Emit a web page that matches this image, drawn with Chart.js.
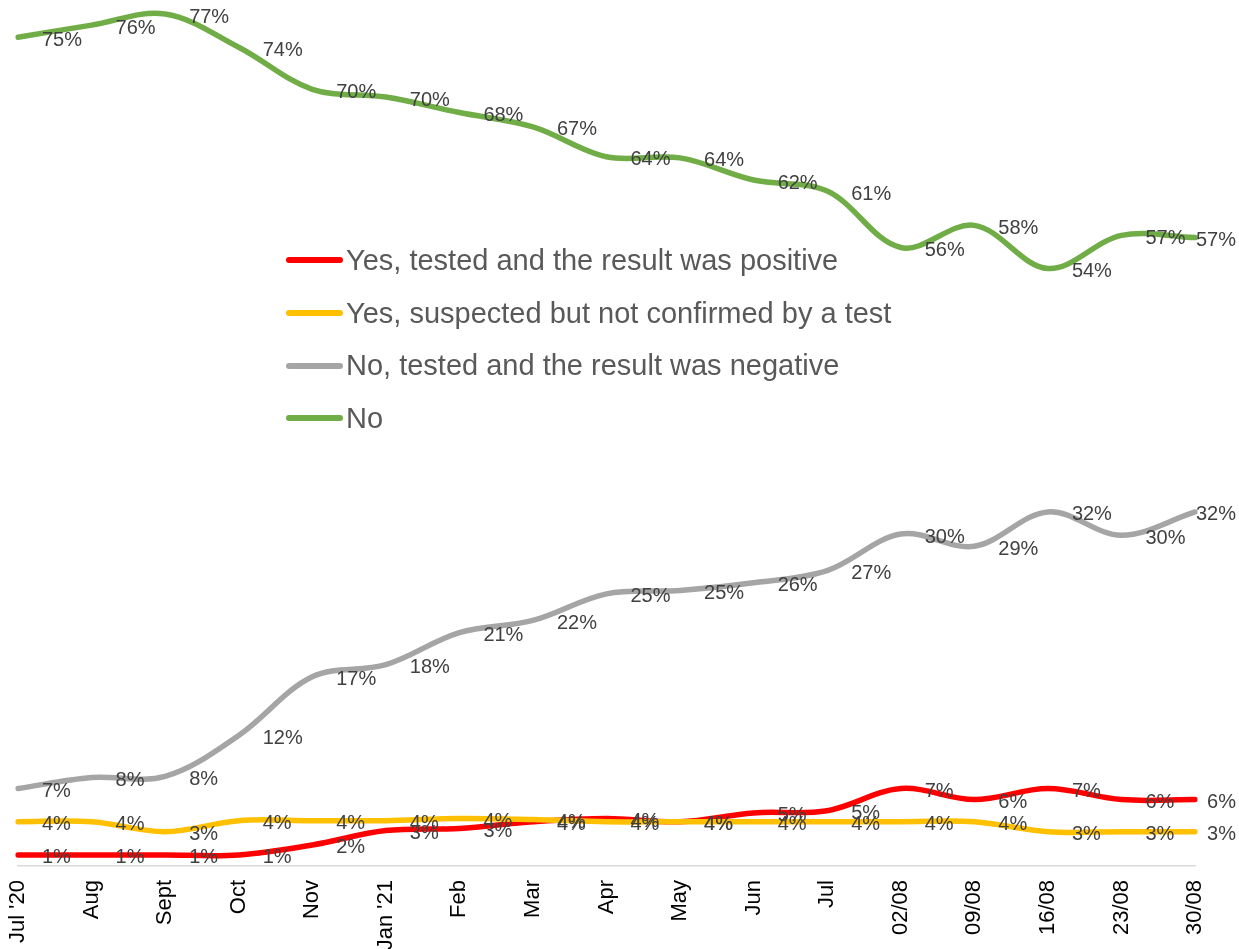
<!DOCTYPE html>
<html lang="en">
<head>
    <meta charset="UTF-8">
    <title>Covid status over time</title>
    <script src="https://cdn.jsdelivr.net/npm/chart.js@4.4.1/dist/chart.umd.min.js"></script>
    <style>
        body {
            margin: 0;
            background: #ffffff;
            font-family: "Liberation Sans", Arial, sans-serif;
        }

        .wrap {
            position: relative;
            width: 1239px;
            height: 949px;
        }

        #legend {
            position: absolute;
            left: 286px;
            top: 234px;
        }

        .legend-item {
            display: flex;
            align-items: center;
            height: 52.7px;
            font-size: 29px;
            color: #595959;
            white-space: nowrap;
        }

        .legend-line {
            display: inline-block;
            width: 57px;
            height: 6px;
            border-radius: 3px;
            margin-right: 3px;
        }
    </style>
</head>
<body>
    <div class="wrap">
        <canvas id="chart" width="1239" height="949"></canvas>
        <div id="legend"></div>
    </div>

    <script>
        const labels = ["Jul '20", "Aug", "Sept", "Oct", "Nov", "Jan '21", "Feb", "Mar", "Apr", "May", "Jun", "Jul", "02/08", "09/08", "16/08", "23/08", "30/08"];

        const seriesNames = [
            "Yes, tested and the result was positive",
            "Yes, suspected but not confirmed by a test",
            "No, tested and the result was negative",
            "No"
        ];
        const seriesColors = ["#FF0000", "#FFC000", "#A5A5A5", "#70AD47"];

        const positive = [1, 1, 1, 1, 1.9, 3.2, 3.4, 4.0, 4.3, 4.0, 4.8, 5.0, 7.0, 6.0, 7.0, 6.0, 6.0];
        const suspected = [4.0, 4.0, 3.1, 4.1, 4.1, 4.1, 4.3, 4.2, 4.0, 4.0, 4.0, 4.0, 4.0, 4.0, 3.1, 3.1, 3.1];
        const negative = [7.0, 8.0, 8.1, 11.8, 17.1, 18.2, 21.1, 22.2, 24.6, 24.9, 25.6, 26.7, 30.0, 28.9, 32.0, 29.9, 32.0];
        const no = [74.9, 76.0, 77.0, 74.0, 70.2, 69.5, 68.1, 66.8, 64.1, 64.0, 62.0, 61.0, 55.9, 57.9, 54.0, 57.0, 56.8];

        const seriesValues = [positive, suspected, negative, no];

        // percent labels to the right of each point
        const valueLabels = {
            id: 'valueLabels',
            afterDatasetsDraw(chart) {
                const ctx = chart.ctx;
                ctx.save();
                ctx.font = '20px "Liberation Sans", Arial, sans-serif';
                ctx.fillStyle = '#404040';
                ctx.textBaseline = 'middle';
                ctx.textAlign = 'left';
                chart.data.datasets.forEach((ds, i) => {
                    chart.getDatasetMeta(i).data.forEach((pt, j) => {
                        const txt = Math.round(ds.data[j]) + '%';
                        const w = ctx.measureText(txt).width;
                        let x = pt.x + 24;
                        if (x + w > chart.width - 3) x = chart.width - 3 - w;
                        ctx.fillText(txt, x, pt.y + 3);
                    });
                });
                ctx.restore();
            }
        };

        const ctx = document.getElementById('chart').getContext('2d');
        new Chart(ctx, {
            type: 'line',
            data: {
                labels: labels,
                datasets: seriesNames.map((name, i) => ({
                    label: name,
                    data: seriesValues[i],
                    borderColor: seriesColors[i],
                    backgroundColor: seriesColors[i],
                    borderWidth: 5.5,
                    borderCapStyle: 'round',
                    tension: 0.35,
                    pointRadius: 0,
                    fill: false,
                    order: 4 - i
                }))
            },
            options: {
                responsive: false,
                devicePixelRatio: 1,
                animation: false,
                layout: {
                    padding: { left: 18, right: 44, top: 3, bottom: 0 }
                },
                plugins: {
                    legend: { display: false },
                    tooltip: { enabled: false }
                },
                scales: {
                    x: {
                        type: 'category',
                        offset: false,
                        grid: { display: false },
                        border: { color: '#D9D9D9', width: 1.5 },
                        ticks: {
                            color: '#000000',
                            font: { family: '"Liberation Sans", Arial, sans-serif', size: 22 },
                            minRotation: 90,
                            maxRotation: 90,
                            autoSkip: false,
                            padding: 6
                        },
                        afterFit: scale => { scale.height = 83; }
                    },
                    y: {
                        display: false,
                        min: 0,
                        max: 78
                    }
                }
            },
            plugins: [valueLabels]
        });

        const legend = document.getElementById('legend');
        seriesNames.forEach((name, i) => {
            const item = document.createElement('div');
            item.className = 'legend-item';
            item.innerHTML = `<span class="legend-line" style="background:${seriesColors[i]}"></span><span>${name}</span>`;
            legend.appendChild(item);
        });
    </script>
</body>
</html>
